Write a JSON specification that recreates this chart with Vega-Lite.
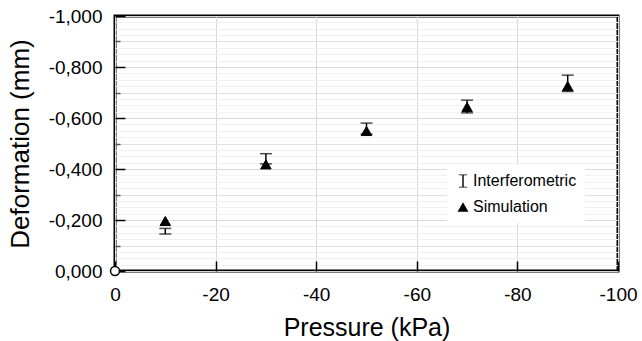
{
  "$schema": "https://vega.github.io/schema/vega-lite/v6.json",
  "width": 503,
  "height": 255,
  "autosize": "none",
  "padding": {"left": 115, "top": 16, "right": 24, "bottom": 70},
  "background": "white",
  "config": {
    "locale": {"number": {"decimal": ",", "thousands": ".", "grouping": [3], "currency": ["", ""], "minus": "-"}},
    "view": {"stroke": "black", "strokeWidth": 3},
    "font": "Liberation Sans"
  },
  "datasets": {
    "interf": [
      {"pressure": -10, "lo": -0.145, "hi": -0.167, "series": "Interferometric"},
      {"pressure": -30, "lo": -0.42, "hi": -0.46, "series": "Interferometric"},
      {"pressure": -50, "lo": -0.537, "hi": -0.58, "series": "Interferometric"},
      {"pressure": -70, "lo": -0.62, "hi": -0.67, "series": "Interferometric"},
      {"pressure": -90, "lo": -0.704, "hi": -0.768, "series": "Interferometric"}
    ],
    "sim": [
      {"pressure": -10, "deformation": -0.196, "series": "Simulation"},
      {"pressure": -30, "deformation": -0.418, "series": "Simulation"},
      {"pressure": -50, "deformation": -0.549, "series": "Simulation"},
      {"pressure": -70, "deformation": -0.643, "series": "Simulation"},
      {"pressure": -90, "deformation": -0.725, "series": "Simulation"}
    ],
    "origin": [{"pressure": 0, "deformation": 0}]
  },
  "layer": [
    {
      "data": {"name": "interf"},
      "mark": {"type": "rule", "color": "black", "strokeWidth": 1.5},
      "encoding": {
        "x": {"field": "pressure", "type": "quantitative",
              "scale": {"domain": [0, -100], "nice": false},
              "axis": {"title": "Pressure (kPa)", "values": [0, -20, -40, -60, -80, -100], "format": "d",
                       "grid": true, "gridColor": "#d8d8d8", "gridWidth": 1, "labelFlush": false,
                       "domain": false, "tickColor": "black", "tickSize": -10, "tickWidth": 1.5,
                       "labelFontSize": 19, "labelColor": "black", "labelPadding": 24,
                       "titleFontSize": 25, "titleFontWeight": "normal", "titleColor": "black", "titlePadding": 11}},
        "y": {"field": "lo", "type": "quantitative",
              "scale": {"domain": [0, -1], "nice": false},
              "axis": {"title": null, "orient": "left", "values": [0, -0.025, -0.05, -0.075, -0.1, -0.125, -0.15, -0.175, -0.2, -0.225, -0.25, -0.275, -0.3, -0.325, -0.35, -0.375, -0.4, -0.425, -0.45, -0.475, -0.5, -0.525, -0.55, -0.575, -0.6, -0.625, -0.65, -0.675, -0.7, -0.725, -0.75, -0.775, -0.8, -0.825, -0.85, -0.875, -0.9, -0.925, -0.95, -0.975, -1],
                       "labels": false, "ticks": false, "domain": false, "grid": true, "gridColor": "#f0f0f0", "gridWidth": 1}},
        "y2": {"field": "hi"}
      }
    },
    {
      "data": {"name": "interf"},
      "mark": {"type": "tick", "color": "black", "thickness": 1.5, "size": 12, "orient": "horizontal"},
      "encoding": {
        "x": {"field": "pressure", "type": "quantitative"},
        "y": {"field": "lo", "type": "quantitative",
              "axis": {"title": null, "orient": "left", "values": [-0.1, -0.3, -0.5, -0.7, -0.9],
                       "labels": false, "domain": false, "ticks": true, "tickSize": -5, "tickColor": "#555", "tickWidth": 1.5,
                       "grid": true, "gridColor": "#e0e0e0", "gridWidth": 1}}
      }
    },
    {
      "data": {"name": "interf"},
      "mark": {"type": "tick", "color": "black", "thickness": 1.5, "size": 12, "orient": "horizontal"},
      "encoding": {
        "x": {"field": "pressure", "type": "quantitative"},
        "y": {"field": "hi", "type": "quantitative", "axis": null}
      }
    },
    {
      "data": {"name": "sim"},
      "mark": {"type": "point", "filled": true, "opacity": 1, "size": 110, "fill": "black", "stroke": "black", "strokeWidth": 1},
      "encoding": {
        "x": {"field": "pressure", "type": "quantitative"},
        "y": {"field": "deformation", "type": "quantitative",
              "axis": {"title": "Deformation (mm)", "orient": "left", "values": [0, -0.2, -0.4, -0.6, -0.8, -1], "format": ".3f",
                       "grid": true, "gridColor": "#d8d8d8", "gridWidth": 1, "labelFlush": false,
                       "domain": false, "tickColor": "black", "tickSize": -10, "tickWidth": 1.5,
                       "labelFontSize": 19, "labelColor": "black", "labelPadding": 23,
                       "titleFontSize": 26, "titleFontWeight": "normal", "titleColor": "black", "titlePadding": 15}},
        "shape": {"field": "series", "type": "nominal",
                  "scale": {"domain": ["Interferometric", "Simulation"], "range": ["M-0.75,-1.2L0.75,-1.2L0.75,-1.05L0.13,-1.05L0.13,1.05L0.75,1.05L0.75,1.2L-0.75,1.2L-0.75,1.05L-0.13,1.05L-0.13,-1.05L-0.75,-1.05Z", "triangle-up"]},
                  "legend": {"title": null, "orient": "none", "legendX": 332, "legendY": 149,
                             "fillColor": "white", "padding": 8, "rowPadding": 10,
                             "labelFontSize": 16, "labelColor": "black", "symbolSize": 120, "labelOffset": 2,
                             "symbolFillColor": "black", "symbolStrokeColor": "black", "symbolStrokeWidth": 0.5,
                             "encode": {"symbols": {"stroke": {"value": "black"}, "fill": {"value": "black"}, "opacity": {"value": 1}}}}}
      }
    },
    {
      "data": {"name": "origin"},
      "mark": {"type": "point", "filled": true, "fill": "white", "stroke": "black", "strokeWidth": 1.5, "size": 80, "opacity": 1},
      "encoding": {
        "x": {"field": "pressure", "type": "quantitative"},
        "y": {"field": "deformation", "type": "quantitative", "axis": null}
      }
    }
  ],
  "resolve": {"axis": {"y": "independent"}}
}
